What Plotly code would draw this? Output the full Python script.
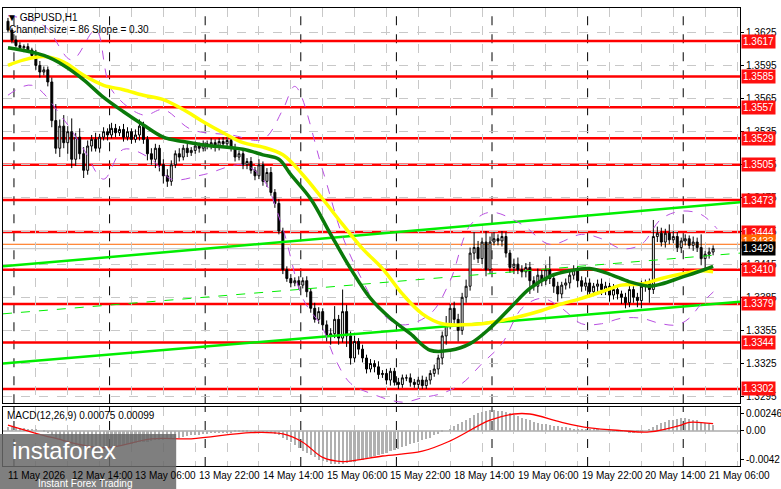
import plotly.graph_objects as go

close = [1.3627,1.3618,1.3613,1.3611,1.3612,1.3609,1.3604,1.3595,1.3589,1.3591,
1.3580,1.3545,1.3520,1.3540,1.3525,1.3535,1.3510,1.3530,1.3515,1.3500,
1.3522,1.3528,1.3520,1.3530,1.3535,1.3532,1.3538,1.3534,1.3537,1.3530,
1.3535,1.3528,1.3532,1.3540,1.3528,1.3515,1.3510,1.3520,1.3505,1.3495,
1.3490,1.3505,1.3515,1.3512,1.3520,1.3516,1.3518,1.3522,1.3520,1.3524,
1.3522,1.3525,1.3521,1.3526,1.3524,1.3527,1.3520,1.3512,1.3515,1.3505,
1.3508,1.3500,1.3495,1.3505,1.3490,1.3498,1.3480,1.3470,1.3445,1.3410,
1.3402,1.3398,1.3400,1.3396,1.3400,1.3390,1.3375,1.3365,1.3372,1.3360,
1.3350,1.3352,1.3365,1.3348,1.3372,1.3350,1.3330,1.3345,1.3338,1.3330,
1.3320,1.3325,1.3322,1.3315,1.3316,1.3310,1.3318,1.3308,1.3306,1.3312,
1.3312,1.3308,1.3306,1.3310,1.3305,1.3310,1.3316,1.3320,1.3330,1.3350,
1.3360,1.3375,1.3365,1.3355,1.3385,1.3395,1.3425,1.3430,1.3420,1.3435,
1.3410,1.3435,1.3438,1.3436,1.3440,1.3425,1.3412,1.3415,1.3410,1.3408,
1.3412,1.3400,1.3395,1.3405,1.3400,1.3410,1.3402,1.3395,1.3388,1.3396,
1.3398,1.3405,1.3410,1.3400,1.3395,1.3398,1.3390,1.3395,1.3397,1.3392,
1.3395,1.3387,1.3392,1.3388,1.3385,1.3380,1.3392,1.3385,1.3382,1.3395,
1.3398,1.3392,1.3440,1.3443,1.3435,1.3443,1.3437,1.3440,1.3430,1.3436,
1.3438,1.3432,1.3435,1.3430,1.3420,1.3424,1.3426,1.3429]
first_open = 1.3635
wick_up = [3,2,4,3,2,3,2,5,4,3, 3,4,15,6,10,5,12,4,8,6, 5,4,6,3,4,3,5,4,3,5,
4,3,5,6,4,3,5,4,3,5, 6,4,3,5,3,4,3,4,3,3, 3,4,3,3,4,3,3,4,3,4,
3,4,3,5,3,4,5,3,4,3, 3,4,3,4,3,4,3,5,4,3, 4,5,12,4,20,6,4,5,3,4,
3,4,3,5,3,4,3,3,4,3, 3,4,3,3,4,3,3,4,3,4, 8,4,6,5,4,6,5,14,6,4,
10,5,6,4,5,4,3,5,6,4, 4,5,4,6,5,4,12,5,4,3, 4,5,4,3,4,5,4,3,4,5,
4,3,5,4,3,4,6,3,4,5, 3,4,15,6,5,4,8,5,4,3, 4,3,5,4,12,3,4,3]
wick_dn = [2,3,2,3,4,2,3,4,5,3, 4,6,5,8,5,10,8,6,5,7, 4,5,3,4,3,5,3,4,3,4,
3,4,3,5,4,6,5,8,6,7, 5,4,3,4,3,4,3,3,4,3, 3,3,4,3,3,4,3,4,3,4,
4,3,4,3,4,5,3,4,3,4, 3,4,3,4,3,5,4,3,4,5, 5,8,4,6,4,10,6,4,5,4,
4,3,5,4,3,4,5,3,4,3, 3,4,3,4,3,3,4,3,5,6, 8,4,5,10,4,5,4,6,4,5,
6,4,3,4,5,4,5,6,4,5, 5,12,4,6,5,4,5,6,7,4, 4,5,4,6,5,4,5,4,6,5,
5,6,4,5,6,5,4,5,6,7, 5,12,4,5,4,5,4,3,4,5, 4,3,5,4,6,12,4,3]

ma_green_idx = [0,9,14,19,24,29,34,39,44,49,59,64,68,71,76,81,86,91,96,101,106,111,116,121,126,131,136,141,146,151,156,161,164,169,174,177]
ma_green = [1.3611,1.3604,1.3595,1.3582,1.3566,1.3553,1.3541,1.3530,1.3526,1.3523,1.3519,1.3514,1.3510,1.3496,1.3474,1.3442,1.3411,1.3384,1.3366,1.3352,1.3337,1.3337,1.3343,1.3357,1.3375,1.3393,1.3404,1.3409,1.3411,1.3406,1.3399,1.3395,1.3397,1.3403,1.3409,1.3413]
ma_yellow_idx = [0,4,9,14,19,24,29,34,39,44,49,54,59,64,69,74,79,84,89,94,99,104,109,114,119,124,129,134,139,144,149,154,159,164,169,174,177]
ma_yellow = [1.3595,1.3600,1.3603,1.3598,1.3586,1.3577,1.3573,1.3568,1.3564,1.3555,1.3544,1.3534,1.3525,1.3521,1.3514,1.3496,1.3474,1.3451,1.3429,1.3411,1.3388,1.3370,1.3361,1.3360,1.3361,1.3364,1.3368,1.3373,1.3379,1.3384,1.3390,1.3396,1.3397,1.3402,1.3406,1.3409,1.3408]
band_up_idx = [0,9,16,22,26,34,39,46,56,64,69,72,79,84,89,94,99,106,111,116,121,129,136,144,149,154,159,164,169,174,178]
band_up = [1.3640,1.3631,1.3600,1.3627,1.3573,1.3550,1.3555,1.3537,1.3532,1.3528,1.3555,1.3576,1.3500,1.3440,1.3400,1.3370,1.3360,1.3370,1.3400,1.3450,1.3462,1.3451,1.3433,1.3442,1.3438,1.3429,1.3433,1.3456,1.3463,1.3460,1.3447]
band_dn_idx = [0,6,14,19,24,29,36,41,49,59,64,69,74,79,82,86,91,99,104,109,114,119,124,129,134,139,144,149,154,159,164,168,171,174,178]
band_dn = [1.3568,1.3577,1.3546,1.3519,1.3492,1.3519,1.3510,1.3492,1.3496,1.3505,1.3492,1.3447,1.3384,1.3357,1.3330,1.3307,1.3298,1.3290,1.3294,1.3298,1.3307,1.3325,1.3343,1.3375,1.3384,1.3375,1.3361,1.3361,1.3366,1.3366,1.3361,1.3360,1.3366,1.3379,1.3393]

chan_x = [-1.25, 183.75]
chan_top = [1.3413, 1.3471]
chan_mid = [1.3370, 1.3425]
chan_bot = [1.3325, 1.3381]

levels = [1.3617,1.3585,1.3557,1.3529,1.3505,1.3473,1.3444,1.3410,1.3379,1.3344,1.3302]
price_ticks = [1.3625,1.3595,1.3565,1.3535,1.3505,1.3475,1.3445,1.3415,1.3385,1.3355,1.3325,1.3295]
last_price = 1.3429
ask_price = 1.3433

hist = [5,5,5,4,4,3,2,1,0,-2, -4,-7,-10,-13,-16,-19,-21,-23,-25,-27,
-29,-30,-29,-28,-27,-26,-25,-24,-22,-21, -20,-19,-18,-17,-16,-16,-15,-14,-13,-13,
-12,-12,-11,-10,-9,-8,-7,-6,-6,-5, -5,-4,-4,-3,-3,-3,-3,-2,-2,-2,
-2,-3,-3,-3,-3,-3,-4,-5,-7,-10, -13,-17,-21,-25,-29,-33,-36,-39,-42,-44,
-46,-48,-49,-49,-48,-47,-46,-45,-43,-42, -40,-39,-37,-36,-34,-32,-30,-28,-26,-24,
-22,-20,-18,-16,-14,-12,-10,-7,-5,-2, 0,3,6,9,12,16,19,22,25,27,
29,30,30,29,28,27,25,23,21,19, 17,15,13,11,10,9,8,7,6,5,
5,4,3,3,2,2,1,1,1,0, 0,-1,-1,-2,-2,-2,-3,-3,-2,-1,
0,2,5,8,11,13,15,16,17,18, 18,17,16,15,13,11,9,8]
signal_idx = [0,11,24,36,46,61,69,74,79,84,94,104,111,121,127,131,139,146,154,161,169,171,177]
signal = [8,-10,-25,-12,-12,-3,-5,-17,-39,-45,-37,-30,-15,15,24,24,12,4,0,-2,8,12,10]
macd_ticks = [0.00246, 0.0, -0.0042]
macd_tick_text = ["0.00246", "0.00", "-0.0042"]

date_idx = [0,16,32,48,64,80,96,112,128,144,160,176]
date_labels = ["11 May 2026","12 May 14:00","13 May 06:00","13 May 22:00","14 May 14:00","15 May 06:00",
               "15 May 22:00","18 May 14:00","19 May 06:00","19 May 22:00","20 May 14:00","21 May 06:00"]
day_sep = [1.5,25.5,49.5,73.5,97.5,121.5,145.5,169.5]

n = len(close)
x = list(range(n))
opens = [first_open] + close[:-1]
highs = [max(o, c) + w * 0.0001 for o, c, w in zip(opens, close, wick_up)]
lows = [min(o, c) - w * 0.0001 for o, c, w in zip(opens, close, wick_dn)]

FONT = "Liberation Sans"
fig = go.Figure()

fig.add_trace(go.Scatter(x=chan_x, y=chan_top, mode="lines", line=dict(color="#00ee00", width=2.5), hoverinfo="skip"))
fig.add_trace(go.Scatter(x=chan_x, y=chan_bot, mode="lines", line=dict(color="#00ee00", width=2.5), hoverinfo="skip"))
fig.add_trace(go.Scatter(x=chan_x, y=chan_mid, mode="lines", line=dict(color="#00ee00", width=1, dash="dash"), hoverinfo="skip"))
fig.add_trace(go.Scatter(x=band_up_idx, y=band_up, mode="lines", line=dict(color="#b84fe0", width=1, dash="dash", shape="spline"), hoverinfo="skip"))
fig.add_trace(go.Scatter(x=band_dn_idx, y=band_dn, mode="lines", line=dict(color="#b84fe0", width=1, dash="dash", shape="spline"), hoverinfo="skip"))
fig.add_trace(go.Scatter(x=ma_yellow_idx, y=ma_yellow, mode="lines", line=dict(color="#ffff00", width=3.5, shape="spline"), hoverinfo="skip"))
fig.add_trace(go.Scatter(x=ma_green_idx, y=ma_green, mode="lines", line=dict(color="#0a7a0a", width=3.5, shape="spline"), hoverinfo="skip"))
fig.add_trace(go.Candlestick(x=x, open=opens, high=highs, low=lows, close=close,
    increasing=dict(line=dict(color="black", width=1), fillcolor="white"),
    decreasing=dict(line=dict(color="black", width=1), fillcolor="black"),
    whiskerwidth=0, hoverinfo="skip"))
fig.add_trace(go.Bar(x=x, y=[h * 0.0001 for h in hist], marker=dict(color="#b0b0b0", line=dict(width=0)),
                     width=0.55, yaxis="y2", xaxis="x2"))
fig.add_trace(go.Scatter(x=signal_idx, y=[s * 0.0001 for s in signal], mode="lines", line=dict(color="red", width=1.3, shape="spline"),
                         yaxis="y2", xaxis="x2"))

shapes = []
for lv in levels:
    shapes.append(dict(type="line", xref="x", yref="y", x0=-1.25, x1=183.75, y0=lv, y1=lv, line=dict(color="#ff0000", width=2.5), layer="below"))
shapes.append(dict(type="line", xref="x", yref="y", x0=-1.25, x1=183.75, y0=ask_price, y1=ask_price, line=dict(color="#ff6600", width=1), layer="below"))
shapes.append(dict(type="line", xref="x", yref="y", x0=-1.25, x1=183.75, y0=last_price, y1=last_price, line=dict(color="#c0c0c0", width=1), layer="below"))
for d in day_sep:
    shapes.append(dict(type="line", xref="x", yref="paper", x0=d, x1=d, y0=0.137, y1=1, line=dict(color="black", width=1, dash="dash"), layer="below"))
    shapes.append(dict(type="line", xref="x2", yref="paper", x0=d, x1=d, y0=0, y1=0.129, line=dict(color="black", width=1, dash="dash"), layer="below"))
shapes.append(dict(type="rect", xref="paper", yref="paper", x0=-0.01, x1=0.235, y0=-0.06, y1=0.07, fillcolor="rgba(105,105,105,0.85)", line=dict(width=0)))

ann = []
for lv in levels:
    ann.append(dict(xref="paper", yref="y", x=1, y=lv, xanchor="left", xshift=1, text=f"{lv:.4f}", showarrow=False,
                    font=dict(family=FONT, size=10, color="white"), bgcolor="#ff1010", borderpad=1))
ann.append(dict(xref="paper", yref="y", x=1, y=ask_price, xanchor="left", yshift=3, xshift=1, text=f"{ask_price:.4f}", showarrow=False,
                font=dict(family=FONT, size=10, color="white"), bgcolor="#ff6600", borderpad=1))
ann.append(dict(xref="paper", yref="y", x=1, y=last_price, xanchor="left", xshift=1, text=f"{last_price:.4f}", showarrow=False,
                font=dict(family=FONT, size=10, color="white"), bgcolor="black", borderpad=1))
for i, lab in zip(date_idx, date_labels):
    ann.append(dict(xref="x2", yref="paper", x=i, y=0, yshift=-2, xanchor="left", yanchor="top", xshift=-2, text=lab, showarrow=False,
                    font=dict(family=FONT, size=10, color="black")))
ann.append(dict(xref="paper", yref="paper", x=0.003, y=1, yshift=-2, xanchor="left", yanchor="top", text="▼ GBPUSD,H1",
                showarrow=False, font=dict(family=FONT, size=10, color="black")))
ann.append(dict(xref="paper", yref="paper", x=0.006, y=1, yshift=-14, xanchor="left", yanchor="top", text="Channel size = 86 Slope = 0.30",
                showarrow=False, font=dict(family=FONT, size=10, color="black")))
ann.append(dict(xref="paper", yref="paper", x=0.003, y=0.129, yshift=-1, xanchor="left", yanchor="top", text="MACD(12,26,9) 0.00075 0.00099",
                showarrow=False, font=dict(family=FONT, size=10, color="black")))
ann.append(dict(xref="paper", yref="paper", x=0.01, y=0.07, yshift=-1, xanchor="left", yanchor="top", text="instaforex",
                showarrow=False, font=dict(family=FONT, size=24, color="white")))
ann.append(dict(xref="paper", yref="paper", x=0.045, y=-0.06, yshift=2, xanchor="left", yanchor="bottom", text="Instant Forex Trading",
                showarrow=False, font=dict(family=FONT, size=10, color="white")))

fig.update_layout(
    width=781, height=489, margin=dict(l=3, r=41, t=8, b=23),
    paper_bgcolor="white", plot_bgcolor="white", showlegend=False,
    shapes=shapes, annotations=ann, bargap=0,
    xaxis=dict(range=[-1.25, 183.75], domain=[0, 1], anchor="y", showticklabels=False, rangeslider=dict(visible=False),
               tick0=-1, dtick=8, showgrid=True, gridcolor="#c8c8c8", griddash="dash", gridwidth=1,
               showline=True, mirror=True, linecolor="black", linewidth=1, zeroline=False, ticks=""),
    yaxis=dict(range=[1.3289, 1.3647], domain=[0.137, 1], side="right", tickvals=price_ticks, ticktext=[f"{t:.4f}" for t in price_ticks],
               showgrid=True, gridcolor="#c8c8c8", griddash="dash", ticks="outside", ticklen=3, tickcolor="black",
               tickfont=dict(family=FONT, size=10, color="black"), showline=True, mirror=True, linecolor="black", zeroline=False,
               automargin=False),
    xaxis2=dict(range=[-1.25, 183.75], anchor="y2", showticklabels=False, tick0=-1, dtick=8,
                showgrid=True, gridcolor="#c8c8c8", griddash="dash", showline=True, mirror=True, linecolor="black", zeroline=False),
    yaxis2=dict(range=[-0.00515, 0.00343], domain=[0, 0.129], side="right", anchor="x2", tickvals=macd_ticks, ticktext=macd_tick_text,
                showgrid=False, ticks="outside", ticklen=3, tickcolor="black", tickfont=dict(family=FONT, size=10, color="black"),
                showline=True, mirror=True, linecolor="black", zeroline=True, zerolinecolor="#c0c0c0", automargin=False),
)
fig.write_html("out.html", config={"displayModeBar": False},
               post_script="document.body.style.margin='0';document.body.style.overflow='hidden';")
